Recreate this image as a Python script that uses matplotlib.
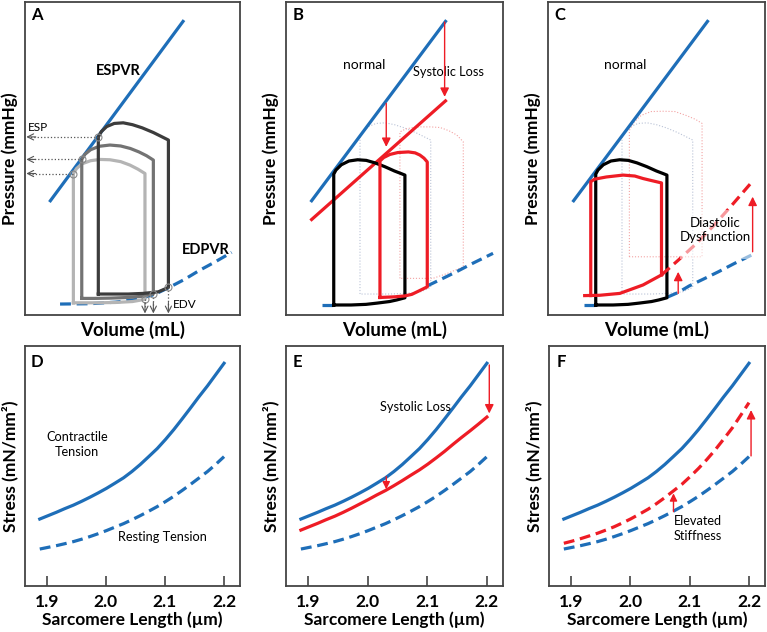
import matplotlib
matplotlib.use("Agg")
import matplotlib.pyplot as plt
from matplotlib.patches import Rectangle

plt.rcParams['font.family'] = ['Lato', 'DejaVu Sans']

BLUE = "#1e6eb8"
RED = "#ee1c25"
DARK = "#3c3c3c"
MID = "#737373"
LIGHT = "#b4b4b4"
GHOST_GRAY = "#b9c2d6"
GHOST_PINK = "#f3a3a3"
SPINE = "#444444"

# ---------------- data: pressure-volume panels (normalised 0-100 units) -------------
espvr_x = [11.8, 73.5]
espvr_y = [36.5, 93.8]
espvr_low_y = [30.5, 68.4]          # reduced ESPVR (panel B)

edpvr_a_x = [16.3, 30.0, 42.0, 52.0, 60.0, 67.0, 74.0, 81.0, 88.0, 96.1]
edpvr_a_y = [3.5, 3.6, 4.1, 5.0, 6.5, 8.8, 11.3, 14.2, 16.8, 20.0]

edpvr_x = [16.6, 22.6, 30.0, 40.0, 48.0, 55.0, 60.0, 65.1, 72.0, 78.5, 86.0, 95.4]
edpvr_y = [3.2, 3.2, 3.3, 3.8, 4.5, 5.7, 7.2, 9.3, 11.6, 13.8, 16.5, 19.7]

stiff_x = [16.9, 23.8, 33.1, 43.8, 52.3, 60.0, 68.5, 76.0, 84.0, 93.1]
stiff_y = [6.2, 6.3, 6.9, 9.6, 12.8, 17.5, 22.9, 28.3, 34.5, 41.8]

# panel A loops (large / medium / small preload)
loop_dark_x = [34.1, 34.1, 35.5, 38.0, 41.5, 45.7, 50.0, 54.5, 59.7, 63.5, 66.7, 66.7, 62.0, 55.0, 48.0, 40.0, 34.1]
loop_dark_y = [6.7, 56.9, 58.6, 60.2, 61.2, 61.4, 60.8, 59.8, 58.3, 57.0, 55.9, 8.8, 7.4, 6.9, 6.7, 6.7, 6.7]
loop_mid_x = [26.4, 26.4, 27.8, 30.5, 34.5, 39.5, 44.5, 49.0, 53.0, 56.5, 59.7, 59.7, 55.0, 48.0, 40.0, 32.0, 26.4]
loop_mid_y = [5.3, 49.7, 51.3, 52.8, 53.9, 54.3, 54.0, 53.2, 52.1, 50.9, 49.5, 6.8, 6.0, 5.6, 5.4, 5.3, 5.3]
loop_light_x = [22.5, 22.5, 24.0, 26.5, 30.5, 34.9, 39.5, 44.5, 48.8, 52.5, 55.8, 55.8, 50.0, 42.0, 34.0, 27.0, 22.5]
loop_light_y = [3.9, 45.2, 46.8, 48.3, 49.3, 49.7, 49.6, 49.0, 47.9, 46.6, 45.2, 5.0, 4.3, 4.0, 3.9, 3.9, 3.9]

esp_x = [34.1, 26.4, 22.5]
esp_y = [56.9, 49.7, 45.2]
edv_x = [55.8, 59.7, 66.7]
edv_y = [5.0, 6.8, 8.8]

# normal loop (panels B, C)
loop_norm_x = [22.0, 22.0, 23.0, 25.5, 29.0, 33.0, 37.0, 41.0, 45.5, 50.0, 53.0, 54.8, 54.8, 51.0, 47.7, 42.0, 36.9, 30.0, 22.0]
loop_norm_y = [3.2, 45.0, 46.3, 48.0, 49.2, 49.6, 49.4, 48.6, 47.4, 46.0, 45.2, 44.7, 5.5, 4.8, 4.3, 3.8, 3.4, 3.2, 3.2]

# systolic loss loop (panel B)
loop_sys_x = [43.3, 43.3, 45.0, 47.9, 51.5, 56.4, 59.5, 61.7, 63.6, 65.1, 65.1, 61.0, 58.0, 54.8, 50.0, 43.3]
loop_sys_y = [5.6, 49.2, 50.3, 51.3, 51.9, 52.1, 51.8, 51.1, 50.1, 48.9, 9.0, 7.6, 6.6, 6.1, 5.8, 5.6]
ghost_pink_b_x = [52.5, 52.5, 55.0, 58.5, 62.0, 66.5, 71.0, 75.0, 78.7, 81.7, 81.7, 74.0, 67.7, 52.5]
ghost_pink_b_y = [11.7, 58.5, 59.4, 59.9, 60.1, 60.1, 59.9, 58.9, 57.5, 55.3, 15.4, 13.2, 11.7, 11.7]

# diastolic dysfunction loop (panel C): walls + top, bottom follows stiff EDPVR
loop_dia_x = [19.7, 19.7, 21.5, 26.9, 34.6, 40.0, 43.8, 48.0, 52.3, 52.3]
loop_dia_y = [6.2, 42.6, 43.4, 44.1, 44.7, 44.4, 43.6, 42.9, 42.2, 12.8]
ghost_pink_c_x = [37.5, 37.5, 39.5, 43.0, 47.5, 53.0, 58.5, 63.5, 68.0, 71.0, 71.0, 37.5]
ghost_pink_c_y = [18.6, 59.0, 61.5, 63.8, 65.0, 65.1, 65.0, 63.8, 62.5, 61.2, 18.6, 18.6]

# ---------------- data: stress - sarcomere length panels ----------------
sl = [1.888, 1.902, 1.916, 1.930, 1.945, 1.959, 1.973, 1.987, 2.001, 2.015, 2.030, 2.044,
      2.058, 2.072, 2.087, 2.101, 2.115, 2.129, 2.143, 2.157, 2.172, 2.186, 2.200]
contractile_normal = [27.9, 29.3, 30.7, 32.2, 33.7, 35.3, 37.0, 38.8, 40.7, 42.8, 45.1, 47.7,
                      50.6, 53.8, 57.3, 61.1, 65.2, 69.6, 74.1, 78.7, 83.4, 88.1, 92.8]
resting_normal = [15.4, 16.1, 16.8, 17.6, 18.5, 19.5, 20.6, 21.8, 23.1, 24.5, 26.0, 27.6,
                  29.3, 31.1, 33.1, 35.2, 37.4, 39.8, 42.3, 44.9, 47.7, 50.7, 53.9]
contractile_reduced = [23.3, 24.7, 26.1, 27.6, 29.1, 30.7, 32.4, 34.2, 36.0, 37.9, 39.8, 41.8,
                       43.9, 46.1, 48.4, 50.8, 53.4, 56.1, 59.0, 61.8, 64.7, 67.5, 70.4]
resting_stiff = [17.8, 18.7, 19.7, 20.8, 22.0, 23.3, 24.7, 26.3, 28.0, 29.9, 32.0, 34.3,
                 36.8, 39.5, 42.4, 45.6, 49.0, 52.7, 56.7, 61.1, 65.9, 71.1, 76.4]
sl_ticks = [1.9, 2.0, 2.1, 2.2]
sl_ticklabels = ["1.9", "2.0", "2.1", "2.2"]

W, H = 767, 632
fig = plt.figure(figsize=(W / 100, H / 100), dpi=100)


def ax_px(l, t, r, b):
    return fig.add_axes([l / W, 1 - b / H, (r - l) / W, (b - t) / H])


def style(ax):
    for s in ax.spines.values():
        s.set_color(SPINE)
        s.set_linewidth(1.3)


LW = 2.3
DASH = (3.4, 1.8)


def arrow(ax, x0, y0, x1, y1, color=RED, lw=1.0, ms=13, style_='-|>'):
    ax.annotate('', xy=(x1, y1), xytext=(x0, y0),
                arrowprops=dict(arrowstyle=style_, color=color, lw=lw,
                                mutation_scale=ms, shrinkA=0, shrinkB=0),
                zorder=6)


def pv_axes(l, r, letter):
    ax = ax_px(l, 2, r, 315)
    ax.set_xlim(0, 100)
    ax.set_ylim(0, 100)
    ax.set_xticks([])
    ax.set_yticks([])
    style(ax)
    ax.set_xlabel("Volume (mL)", fontsize=13.5, fontweight='bold', labelpad=4)
    ax.set_ylabel("Pressure (mmHg)", fontsize=12.5, fontweight='bold', labelpad=5)
    ax.text(5.5, 96, letter, fontsize=12, fontweight='bold', ha='center', va='center')
    return ax


# ---------------- Panel A ----------------
axA = pv_axes(25, 240, "A")
axA.plot(espvr_x, espvr_y, color=BLUE, lw=LW, zorder=3)
axA.plot(edpvr_a_x, edpvr_a_y, color=BLUE, lw=LW, dashes=DASH, zorder=2)
axA.plot(loop_light_x, loop_light_y, color=LIGHT, lw=LW, zorder=3)
axA.plot(loop_mid_x, loop_mid_y, color=MID, lw=LW, zorder=3)
axA.plot(loop_dark_x, loop_dark_y, color=DARK, lw=LW, zorder=3)
for x, y in zip(esp_x, esp_y):
    axA.plot([x, 1.5], [y, y], color="#555555", lw=0.9, ls=':', zorder=4)
    arrow(axA, 5.0, y, 0.6, y, color="#555555", lw=0.8, ms=11, style_='->')
for x, y in zip(edv_x, edv_y):
    axA.plot([x, x], [y, 1.5], color="#555555", lw=0.9, ls=':', zorder=4)
    arrow(axA, x, 4.0, x, 0.5, color="#555555", lw=0.8, ms=11, style_='->')
axA.plot(esp_x + edv_x, esp_y + edv_y, 'o', ms=5, mfc='none', mec='#8a8a8a', mew=0.8, zorder=5)
axA.text(1.5, 60.0, "ESP", fontsize=8.5, ha='left', va='center')
axA.text(69.0, 3.4, "EDV", fontsize=8.5, ha='left', va='center')
axA.text(43.4, 78.0, "ESPVR", fontsize=10.5, fontweight='bold', ha='center', va='center')
axA.text(84.0, 20.8, "EDPVR", fontsize=10.5, fontweight='bold', ha='center', va='center')

# ---------------- Panel B ----------------
axB = pv_axes(286, 503, "B")
axB.plot(loop_dark_x, loop_dark_y, color=GHOST_GRAY, lw=0.8, ls=':', zorder=1)
axB.plot(ghost_pink_b_x, ghost_pink_b_y, color=GHOST_PINK, lw=0.8, ls=':', zorder=1)
axB.plot(espvr_x, espvr_y, color=BLUE, lw=LW, zorder=3)
axB.plot(espvr_x, espvr_low_y, color=RED, lw=LW, zorder=3)
axB.plot(edpvr_x[:2], edpvr_y[:2], color=BLUE, lw=LW, dashes=DASH, zorder=2)
axB.plot(edpvr_x[7:], edpvr_y[7:], color=BLUE, lw=LW, dashes=DASH, zorder=2)
axB.plot(loop_norm_x, loop_norm_y, color='black', lw=LW, zorder=3)
axB.plot(loop_sys_x, loop_sys_y, color=RED, lw=LW, zorder=4)
arrow(axB, 73.1, 93.6, 73.1, 69.7)
arrow(axB, 46.2, 67.6, 46.2, 53.7)
axB.text(36.2, 79.8, "normal", fontsize=10, ha='center', va='center')
axB.text(75.0, 77.7, "Systolic Loss", fontsize=9.2, ha='center', va='center')

# ---------------- Panel C ----------------
axC = pv_axes(548, 765, "C")
axC.plot(loop_dark_x, loop_dark_y, color=GHOST_GRAY, lw=0.8, ls=':', zorder=1)
axC.plot(ghost_pink_c_x, ghost_pink_c_y, color=GHOST_PINK, lw=0.8, ls=':', zorder=1)
axC.plot(espvr_x, espvr_y, color=BLUE, lw=LW, zorder=3)
axC.plot(edpvr_x[:2], edpvr_y[:2], color=BLUE, lw=LW, dashes=DASH, zorder=2)
axC.plot(edpvr_x[5:], edpvr_y[5:], color=BLUE, lw=LW, dashes=DASH, zorder=2)
axC.plot(loop_norm_x, loop_norm_y, color='black', lw=LW, zorder=3)
axC.plot(stiff_x[:5], stiff_y[:5], color=RED, lw=LW, zorder=4)
axC.plot(stiff_x[4:], stiff_y[4:], color=RED, lw=LW, dashes=DASH, zorder=4)
axC.plot(loop_dia_x, loop_dia_y, color=RED, lw=LW, zorder=4)
axC.add_patch(Rectangle((61, 18), 36, 15.5, facecolor='white', edgecolor='none', alpha=0.55, zorder=5))
arrow(axC, 60.0, 6.9, 60.0, 13.8)
arrow(axC, 94.3, 20.2, 94.3, 37.8)
axC.text(35.4, 79.8, "normal", fontsize=10, ha='center', va='center')
axC.text(77.2, 27.1, "Diastolic\nDysfunction", fontsize=9.5, ha='center', va='center',
         linespacing=1.25, zorder=7)


# ---------------- Stress panels ----------------
def sl_axes(l, r, letter):
    ax = ax_px(l, 346, r, 586)
    ax.set_xlim(1.863, 2.227)
    ax.set_ylim(0, 100)
    ax.set_yticks([])
    ax.set_xticks(sl_ticks)
    ax.set_xticklabels(sl_ticklabels, fontsize=12.5, fontweight='bold')
    ax.tick_params(axis='x', direction='in', length=7, width=1.2, color=SPINE, pad=6)
    style(ax)
    ax.set_xlabel("Sarcomere Length (\u00b5m)", fontsize=12.5, fontweight='bold', labelpad=1)
    ax.set_ylabel("Stress (mN/mm\u00b2)", fontsize=12.5, fontweight='bold', labelpad=5)
    ax.text(1.883, 93.5, letter, fontsize=12, fontweight='bold', ha='center', va='center')
    return ax


axD = sl_axes(25, 240, "D")
axD.plot(sl, contractile_normal, color=BLUE, lw=LW)
axD.plot(sl, resting_normal, color=BLUE, lw=LW, dashes=DASH)
axD.text(1.951, 58.9, "Contractile\nTension", fontsize=9.2, ha='center', va='center', linespacing=1.3)
axD.text(2.0956, 20.4, "Resting Tension", fontsize=9.2, ha='center', va='center')

axE = sl_axes(286, 503, "E")
axE.plot(sl, contractile_normal, color=BLUE, lw=LW)
axE.plot(sl, resting_normal, color=BLUE, lw=LW, dashes=DASH)
axE.plot(sl, contractile_reduced, color=RED, lw=LW)
arrow(axE, 2.204, 92.1, 2.204, 71.9)
arrow(axE, 2.0312, 45.6, 2.0312, 40.3, ms=11)
axE.text(2.0807, 74.5, "Systolic Loss", fontsize=9.2, ha='center', va='center')

axF = sl_axes(549, 765, "F")
axF.plot(sl, contractile_normal, color=BLUE, lw=LW)
axF.plot(sl, resting_normal, color=BLUE, lw=LW, dashes=DASH)
axF.plot(sl, resting_stiff, color=RED, lw=LW, dashes=DASH)
arrow(axF, 2.2035, 54.2, 2.2035, 73.3)
arrow(axF, 2.0728, 31.0, 2.0728, 38.6, ms=11)
axF.text(2.0728, 24.0, "Elevated\nStiffness", fontsize=9.2, ha='left', va='center', linespacing=1.3)

fig.savefig("out.png", dpi=100)
